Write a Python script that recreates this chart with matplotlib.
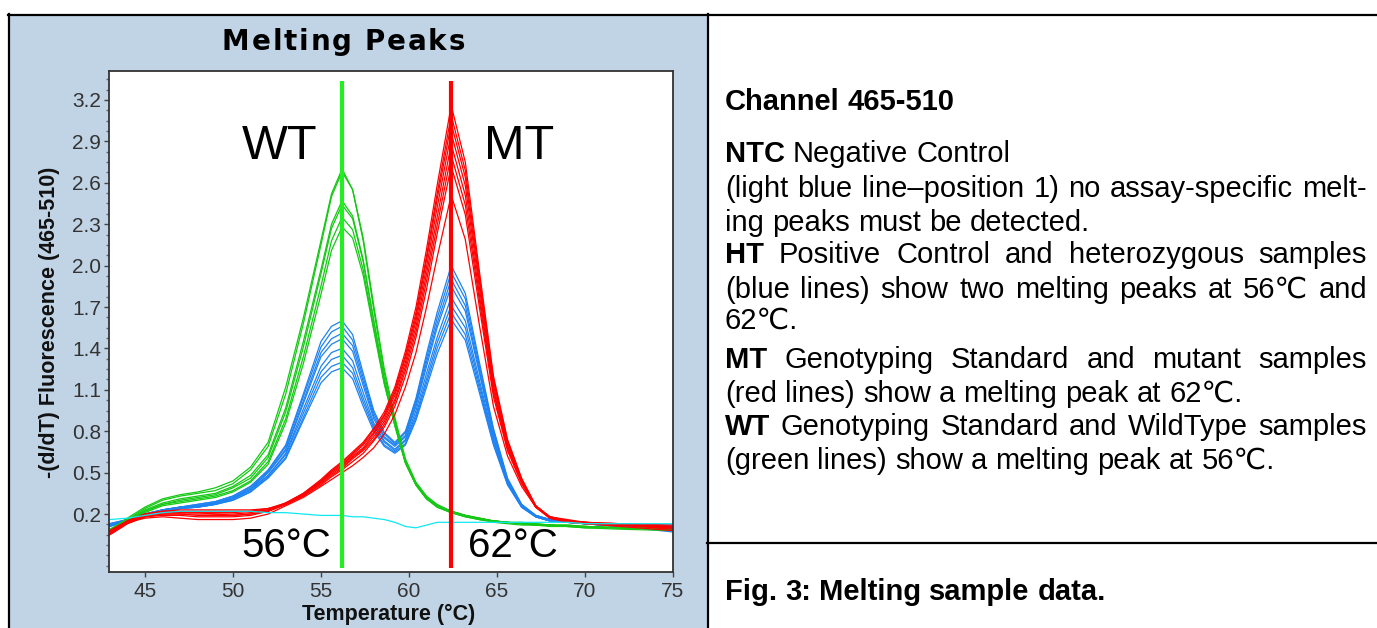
import matplotlib
matplotlib.use("Agg")
import matplotlib.pyplot as plt
from matplotlib.patches import Rectangle
from matplotlib.lines import Line2D
from matplotlib.ticker import AutoMinorLocator

W, H = 1377, 628
FAM = ['Liberation Sans', 'DejaVu Sans']

# melting temperature grid (°C)
temps = [43, 44, 45, 46, 47, 48, 49, 50, 51, 52, 53, 54, 55,
         55.6, 56.2, 56.8, 57.4, 58, 58.6, 59.2, 59.8, 60.4, 61, 61.6,
         62.4, 63.2, 64, 64.8, 65.6, 66.4, 67.2, 68, 69, 70, 72, 75]

# WT samples (green)
wt_curves = [
    [0.08, 0.17, 0.25, 0.31, 0.34, 0.36, 0.39, 0.44, 0.54, 0.72, 1.12, 1.62, 2.18,
     2.52, 2.70, 2.55, 2.18, 1.68, 1.22, 0.88, 0.58, 0.42, 0.32, 0.26, 0.22, 0.19, 0.16, 0.15, 0.14, 0.13, 0.12,
     0.12, 0.11, 0.11, 0.10, 0.09],
    [0.07, 0.16, 0.24, 0.30, 0.33, 0.35, 0.37, 0.42, 0.52, 0.69, 1.07, 1.58, 2.15,
     2.50, 2.68, 2.55, 2.20, 1.71, 1.25, 0.90, 0.60, 0.43, 0.33, 0.27, 0.22, 0.19, 0.17, 0.15, 0.14, 0.13, 0.13,
     0.12, 0.12, 0.11, 0.10, 0.10],
    [0.08, 0.15, 0.23, 0.28, 0.31, 0.33, 0.35, 0.40, 0.48, 0.63, 0.97, 1.45, 1.97,
     2.30, 2.47, 2.36, 2.04, 1.60, 1.17, 0.85, 0.57, 0.41, 0.31, 0.25, 0.21, 0.18, 0.16, 0.15, 0.14, 0.13, 0.12,
     0.12, 0.11, 0.10, 0.10, 0.09],
    [0.09, 0.16, 0.22, 0.27, 0.30, 0.32, 0.34, 0.39, 0.46, 0.61, 0.94, 1.41, 1.94,
     2.27, 2.44, 2.34, 2.03, 1.60, 1.18, 0.86, 0.58, 0.42, 0.32, 0.26, 0.22, 0.19, 0.17, 0.15, 0.14, 0.14, 0.13,
     0.12, 0.12, 0.11, 0.10, 0.10],
    [0.07, 0.14, 0.22, 0.27, 0.29, 0.31, 0.33, 0.37, 0.44, 0.58, 0.89, 1.34, 1.85,
     2.18, 2.35, 2.26, 1.97, 1.55, 1.15, 0.84, 0.57, 0.41, 0.31, 0.25, 0.21, 0.18, 0.16, 0.14, 0.13, 0.12, 0.12,
     0.11, 0.11, 0.10, 0.09, 0.08],
    [0.08, 0.15, 0.21, 0.26, 0.28, 0.30, 0.32, 0.36, 0.43, 0.56, 0.86, 1.29, 1.79,
     2.11, 2.28, 2.20, 1.93, 1.53, 1.14, 0.84, 0.57, 0.41, 0.31, 0.26, 0.22, 0.19, 0.17, 0.15, 0.14, 0.13, 0.12,
     0.12, 0.11, 0.11, 0.10, 0.09],
]

# HT samples (blue)
ht_curves = [
    [0.13, 0.16, 0.20, 0.23, 0.25, 0.27, 0.29, 0.33, 0.40, 0.52, 0.70, 1.07, 1.45,
     1.56, 1.60, 1.50, 1.22, 0.95, 0.79, 0.72, 0.80, 1.04, 1.36, 1.66, 2.00, 1.80, 1.30, 0.82, 0.46, 0.27, 0.19,
     0.16, 0.15, 0.14, 0.12, 0.11],
    [0.12, 0.16, 0.20, 0.23, 0.25, 0.27, 0.29, 0.33, 0.40, 0.51, 0.69, 1.05, 1.41,
     1.52, 1.56, 1.46, 1.19, 0.93, 0.78, 0.71, 0.79, 1.02, 1.33, 1.62, 1.95, 1.76, 1.27, 0.81, 0.45, 0.27, 0.19,
     0.16, 0.15, 0.14, 0.12, 0.10],
    [0.13, 0.16, 0.20, 0.23, 0.25, 0.26, 0.28, 0.32, 0.39, 0.50, 0.67, 1.02, 1.37,
     1.47, 1.51, 1.42, 1.16, 0.91, 0.76, 0.70, 0.77, 1.00, 1.30, 1.58, 1.90, 1.71, 1.24, 0.79, 0.45, 0.26, 0.19,
     0.16, 0.14, 0.13, 0.12, 0.12],
    [0.12, 0.16, 0.20, 0.23, 0.25, 0.26, 0.28, 0.32, 0.38, 0.50, 0.66, 1.00, 1.34,
     1.43, 1.47, 1.38, 1.13, 0.89, 0.75, 0.69, 0.76, 0.98, 1.27, 1.55, 1.85, 1.67, 1.22, 0.77, 0.44, 0.26, 0.19,
     0.16, 0.15, 0.13, 0.11, 0.08],
    [0.12, 0.15, 0.19, 0.22, 0.24, 0.26, 0.28, 0.31, 0.38, 0.48, 0.64, 0.96, 1.27,
     1.37, 1.40, 1.31, 1.08, 0.86, 0.73, 0.67, 0.74, 0.95, 1.22, 1.48, 1.77, 1.60, 1.17, 0.75, 0.43, 0.26, 0.18,
     0.15, 0.14, 0.13, 0.11, 0.10],
    [0.11, 0.15, 0.19, 0.22, 0.24, 0.25, 0.27, 0.31, 0.37, 0.48, 0.63, 0.93, 1.23,
     1.32, 1.35, 1.26, 1.04, 0.84, 0.72, 0.66, 0.73, 0.92, 1.18, 1.44, 1.71, 1.55, 1.14, 0.73, 0.42, 0.25, 0.18,
     0.15, 0.14, 0.13, 0.12, 0.11],
    [0.12, 0.15, 0.19, 0.22, 0.24, 0.25, 0.27, 0.30, 0.36, 0.47, 0.61, 0.90, 1.19,
     1.27, 1.30, 1.22, 1.01, 0.82, 0.70, 0.65, 0.71, 0.90, 1.15, 1.40, 1.66, 1.50, 1.11, 0.71, 0.42, 0.25, 0.18,
     0.15, 0.14, 0.13, 0.11, 0.07],
    [0.11, 0.15, 0.19, 0.22, 0.24, 0.25, 0.27, 0.30, 0.36, 0.46, 0.60, 0.88, 1.15,
     1.23, 1.26, 1.18, 0.98, 0.80, 0.69, 0.64, 0.70, 0.88, 1.12, 1.36, 1.61, 1.46, 1.08, 0.70, 0.41, 0.25, 0.18,
     0.15, 0.14, 0.13, 0.11, 0.09],
]

# MT samples (red)
mt_curves = [
    [0.06, 0.14, 0.19, 0.21, 0.21, 0.21, 0.20, 0.20, 0.21, 0.23, 0.28, 0.35, 0.45,
     0.52, 0.58, 0.65, 0.72, 0.82, 0.94, 1.12, 1.38, 1.70, 2.12, 2.58, 3.16, 2.75, 1.96, 1.20, 0.74, 0.46, 0.26,
     0.18, 0.15, 0.14, 0.12, 0.10],
    [0.07, 0.15, 0.20, 0.22, 0.22, 0.22, 0.22, 0.22, 0.22, 0.24, 0.28, 0.35, 0.44,
     0.51, 0.57, 0.64, 0.71, 0.81, 0.92, 1.10, 1.35, 1.66, 2.07, 2.52, 3.09, 2.69, 1.92, 1.18, 0.73, 0.45, 0.26,
     0.18, 0.15, 0.13, 0.12, 0.11],
    [0.05, 0.13, 0.18, 0.20, 0.20, 0.19, 0.19, 0.19, 0.20, 0.22, 0.28, 0.34, 0.44,
     0.51, 0.56, 0.63, 0.70, 0.79, 0.91, 1.08, 1.33, 1.63, 2.04, 2.48, 3.03, 2.64, 1.88, 1.16, 0.72, 0.45, 0.26,
     0.17, 0.15, 0.14, 0.13, 0.11],
    [0.08, 0.15, 0.20, 0.22, 0.23, 0.23, 0.23, 0.23, 0.23, 0.24, 0.27, 0.34, 0.43,
     0.50, 0.55, 0.62, 0.68, 0.78, 0.89, 1.06, 1.30, 1.60, 1.99, 2.42, 2.96, 2.58, 1.84, 1.13, 0.70, 0.44, 0.26,
     0.18, 0.16, 0.14, 0.12, 0.10],
    [0.06, 0.14, 0.18, 0.19, 0.19, 0.18, 0.18, 0.18, 0.19, 0.22, 0.27, 0.34, 0.43,
     0.49, 0.54, 0.61, 0.67, 0.76, 0.87, 1.03, 1.27, 1.56, 1.94, 2.35, 2.88, 2.51, 1.79, 1.10, 0.69, 0.44, 0.25,
     0.17, 0.14, 0.13, 0.12, 0.09],
    [0.07, 0.15, 0.19, 0.21, 0.21, 0.21, 0.21, 0.21, 0.22, 0.23, 0.27, 0.33, 0.42,
     0.48, 0.53, 0.60, 0.66, 0.74, 0.85, 1.01, 1.24, 1.52, 1.89, 2.29, 2.80, 2.44, 1.75, 1.08, 0.67, 0.43, 0.25,
     0.18, 0.15, 0.14, 0.13, 0.12],
    [0.05, 0.13, 0.18, 0.20, 0.20, 0.20, 0.20, 0.19, 0.20, 0.22, 0.27, 0.33, 0.41,
     0.47, 0.52, 0.58, 0.64, 0.73, 0.83, 0.98, 1.20, 1.48, 1.83, 2.23, 2.72, 2.37, 1.70, 1.05, 0.66, 0.42, 0.25,
     0.17, 0.15, 0.13, 0.12, 0.10],
    [0.06, 0.14, 0.17, 0.18, 0.17, 0.16, 0.16, 0.16, 0.17, 0.20, 0.26, 0.32, 0.40,
     0.45, 0.50, 0.55, 0.61, 0.68, 0.78, 0.92, 1.12, 1.37, 1.70, 2.06, 2.51, 2.19, 1.57, 0.98, 0.62, 0.40, 0.25,
     0.18, 0.15, 0.13, 0.11, 0.08],
]

# NTC (light blue)
ntc_curve = [0.16, 0.17, 0.19, 0.21, 0.22, 0.22, 0.22, 0.22, 0.22, 0.21, 0.21, 0.20, 0.19,
             0.19, 0.19, 0.18, 0.18, 0.17, 0.16, 0.14, 0.11, 0.10, 0.12, 0.14, 0.14, 0.14, 0.14, 0.14, 0.14, 0.14, 0.14,
             0.14, 0.14, 0.13, 0.13, 0.13]

wt_peak = 56.2
mt_peak = 62.4
x_ticks = [45, 50, 55, 60, 65, 70, 75]
y_ticks = [0.2, 0.5, 0.8, 1.1, 1.4, 1.7, 2.0, 2.3, 2.6, 2.9, 3.2]


def fx(px):
    return px / W


def fy(py):
    return 1 - py / H


fig = plt.figure(figsize=(W / 100, H / 100), dpi=100)
fig.patch.set_facecolor('white')

# left panel background and frame lines
fig.add_artist(Rectangle((fx(9), 0), fx(707) - fx(9), fy(15), color='#C1D4E6', zorder=0))
for xs, ys in [((fx(8), 1), (fy(14.5), fy(14.5))),
               ((fx(8.5), fx(8.5)), (fy(14), 0)),
               ((fx(707.5), fx(707.5)), (fy(14), 0)),
               ((fx(707), 1), (fy(543), fy(543)))]:
    fig.add_artist(Line2D(xs, ys, color='black', lw=1.6, zorder=1))

ax = fig.add_axes([fx(109), fy(572), fx(673) - fx(109), fy(71) - fy(572)])
ax.set_facecolor('white')

for y in ht_curves:
    ax.plot(temps, y, color='#1E82F0', lw=0.9)
for y in wt_curves:
    ax.plot(temps, y, color='#14C814', lw=0.9)
for y in mt_curves:
    ax.plot(temps, y, color='#FF0000', lw=0.9)
ax.plot(temps, ntc_curve, color='#10E8F0', lw=0.9)

ax.vlines(wt_peak, -0.19, 3.34, color='#22EE22', lw=3.0, zorder=5)
ax.vlines(mt_peak, -0.19, 3.34, color='#FF0000', lw=3.0, zorder=5)

ax.set_xlim(42.96, 75)
ax.set_ylim(-0.22, 3.41)
ax.set_xticks(x_ticks)
ax.set_yticks(y_ticks)
ax.set_yticklabels([f"{v:.1f}" for v in y_ticks])
ax.yaxis.set_minor_locator(AutoMinorLocator(4))
ax.tick_params(axis='both', which='major', direction='out', length=3.5, width=1,
               color='#444444', labelsize=15, labelcolor='#333333')
ax.tick_params(axis='y', which='minor', direction='out', length=2, width=1, color='#666666')
ax.tick_params(axis='y', pad=2)
ax.tick_params(axis='x', pad=4)
for lab in ax.get_xticklabels() + ax.get_yticklabels():
    lab.set_family(FAM)
for s in ax.spines.values():
    s.set_color('#333333')
    s.set_linewidth(1.3)

# annotations
ax.text(52.66, 2.86, "WT", fontsize=35, family=FAM, ha='center', va='center', zorder=6)
ax.text(66.27, 2.86, "MT", fontsize=35, family=FAM, ha='center', va='center', zorder=6)
ax.text(53.03, -0.03, "56°C", fontsize=29, family=FAM, ha='center', va='center', zorder=6)
ax.text(65.93, -0.03, "62°C", fontsize=29, family=FAM, ha='center', va='center', zorder=6)

# axis labels
fig.text(fx(50), fy(322), "-(d/dT) Fluorescence (465-510)", rotation=90, fontsize=15.5,
         fontweight='bold', family=FAM, ha='center', va='center', color='#111111')
fig.text(fx(389), fy(614), "Temperature (°C)", fontsize=15.5, fontweight='bold',
         family=FAM, ha='center', va='center', color='#111111')

renderer = fig.canvas.get_renderer()

# title with slight letter spacing
title = "Melting Peaks"
chars = [fig.text(0, fy(50), c, fontsize=20, fontweight='bold', family='DejaVu Sans',
                  ha='left', va='baseline') for c in title]
cw = [t.get_window_extent(renderer).width if c != ' ' else 9 for t, c in zip(chars, title)]
gap = (465 - 222 - sum(cw)) / (len(chars) - 1)
x = 222
for t, w in zip(chars, cw):
    t.set_x(fx(x))
    x += w + gap


def put_line(y_px, parts, justify=False, left=725, right=1367, size=21):
    words = []
    for text, bold in parts:
        for w in text.split():
            words.append((w, bold))
    arts = [fig.text(0, fy(y_px), w, fontsize=size, fontweight='bold' if b else 'normal',
                     family=FAM, ha='left', va='baseline', color='black') for w, b in words]
    widths = [a.get_window_extent(renderer).width for a in arts]
    if justify and len(arts) > 1:
        space = (right - left - sum(widths)) / (len(arts) - 1)
    else:
        space = 0.278 * size * 100 / 72
    xx = left
    for a, w in zip(arts, widths):
        a.set_x(fx(xx))
        xx += w + space


put_line(110, [("Channel 465-510", True)])
put_line(162, [("NTC", True), ("Negative Control", False)])
put_line(196.5, [("(light blue line\u2013position 1) no assay-specific melt-", False)], justify=True)
put_line(231, [("ing peaks must be detected.", False)])
put_line(263, [("HT", True), ("Positive Control and heterozygous samples", False)], justify=True)
put_line(297.5, [("(blue lines) show two melting peaks at 56\u2103 and", False)], justify=True)
put_line(329, [("62\u2103.", False)])
put_line(368, [("MT", True), ("Genotyping Standard and mutant samples", False)], justify=True)
put_line(402, [("(red lines) show a melting peak at 62\u2103.", False)])
put_line(435, [("WT", True), ("Genotyping Standard and WildType samples", False)], justify=True)
put_line(469, [("(green lines) show a melting peak at 56\u2103.", False)])
put_line(600, [("Fig. 3: Melting sample data.", True)])

fig.savefig("out.png", dpi=100)
